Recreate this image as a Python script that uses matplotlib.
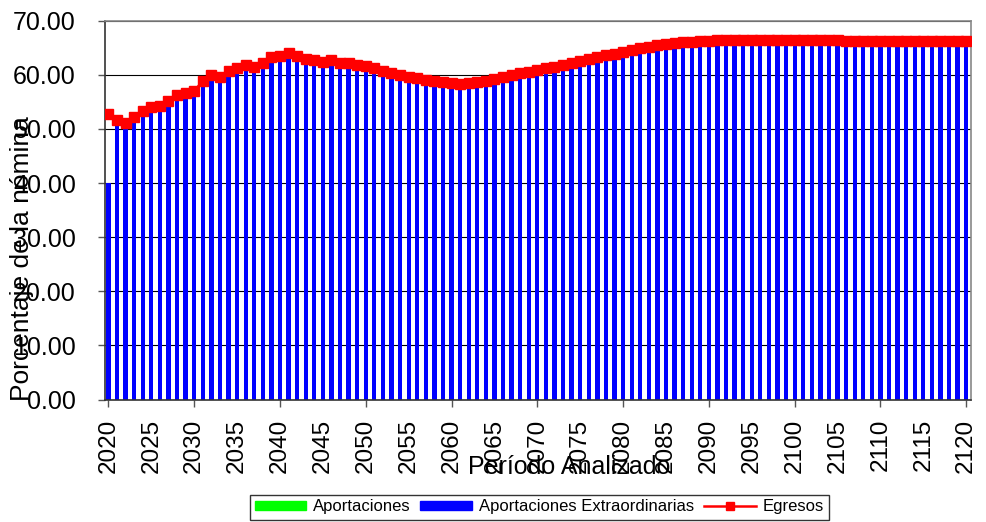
import numpy as np
import matplotlib
matplotlib.use("Agg")
import matplotlib.pyplot as plt
from matplotlib.patches import Patch
from matplotlib.lines import Line2D

plt.rcParams['font.family'] = ['Liberation Sans', 'DejaVu Sans']

years = list(range(2020, 2121))

egresos = [
    52.7, 51.6, 51.1, 52.2, 53.4, 54.0, 54.3, 55.1, 56.2, 56.6,
    57.0, 58.8, 59.9, 59.6, 60.7, 61.3, 61.9, 61.5, 62.2, 63.2,
    63.4, 64.0, 63.4, 63.0, 62.7, 62.3, 62.8, 62.1, 62.2, 61.9,
    61.6, 61.2, 60.7, 60.3, 60.0, 59.6, 59.4, 59.1, 58.9, 58.7,
    58.5, 58.3, 58.4, 58.6, 58.9, 59.3, 59.6, 60.0, 60.3, 60.6,
    60.9, 61.2, 61.5, 61.8, 62.1, 62.5, 62.9, 63.3, 63.6, 63.9,
    64.3, 64.6, 64.9, 65.2, 65.5, 65.7, 65.9, 66.0, 66.1, 66.2,
    66.3, 66.4, 66.4, 66.5, 66.5, 66.5, 66.5, 66.5, 66.5, 66.5,
    66.5, 66.5, 66.5, 66.4, 66.4, 66.4, 66.3, 66.3, 66.3, 66.2,
    66.2, 66.2, 66.2, 66.2, 66.2, 66.2, 66.2, 66.2, 66.3, 66.3,
    66.3,
]

# green series is not visible in the picture
aportaciones = [0.0] * len(years)
extraordinarias = [40.0] + egresos[1:]

fig = plt.figure(figsize=(9.87, 5.22), dpi=100)
ax = fig.add_axes([105 / 987, 1 - 399.5 / 522, 865.5 / 987, (399.5 - 20.7) / 522])

ax.bar(years, aportaciones, width=0.5, color="#00FF00", zorder=2)
ax.bar(years, extraordinarias, width=0.5, bottom=aportaciones, color="#0000FF", zorder=2)
ax.plot(years, egresos, color="#FF0000", lw=2, marker="s", ms=6.5, zorder=3)

ax.set_xlim(2019.6, 2120.5)
ax.set_ylim(0, 70)
ax.set_yticks(np.arange(0, 71, 10))
ax.set_yticklabels([f"{v:.2f}" for v in np.arange(0, 71, 10)], fontsize=18)
ax.yaxis.grid(True, color="black", lw=0.8, zorder=1)
ax.set_axisbelow(True)

major = list(range(2020, 2121, 10))
minor = list(range(2025, 2121, 10))
ax.set_xticks(major)
ax.set_xticklabels([str(y) for y in major], rotation=90, fontsize=17.5)
ax.set_xticks(minor, minor=True)
ax.set_xticklabels([str(y) for y in minor], rotation=90, fontsize=17.5, minor=True)
ax.tick_params(axis="x", which="major", length=5, width=1, color="#555555", pad=9)
ax.tick_params(axis="x", which="minor", length=0, pad=14)
ax.tick_params(axis="y", length=5, width=1, color="#555555", pad=16)

ax.spines["left"].set_color("#333333")
ax.spines["bottom"].set_color("#333333")
ax.spines["top"].set_color("#888888")
ax.spines["right"].set_color("#888888")
for s in ax.spines.values():
    s.set_linewidth(1.2)

fig.text(22 / 987, 1 - 259 / 522, "Porcentaje de la nómina", rotation=90,
         ha="center", va="center", fontsize=19)
fig.text(569 / 987, 1 - 467 / 522, "Período Analizado", ha="center", va="center", fontsize=18)

handles = [
    Patch(color="#00FF00"),
    Patch(color="#0000FF"),
    Line2D([], [], color="#FF0000", lw=1.8, marker="s", ms=6),
]
leg = fig.legend(handles, ["Aportaciones", "Aportaciones Extraordinarias", "Egresos"],
                 loc="center", bbox_to_anchor=(539 / 987, 1 - 507 / 522), ncol=3,
                 fontsize=12, frameon=True, fancybox=False, handlelength=3.1,
                 handleheight=0.5, columnspacing=0.6, handletextpad=0.4,
                 borderpad=0.3, borderaxespad=0)
leg.get_frame().set_edgecolor("black")
leg.get_frame().set_linewidth(1)

fig.savefig("out.png", dpi=100)
